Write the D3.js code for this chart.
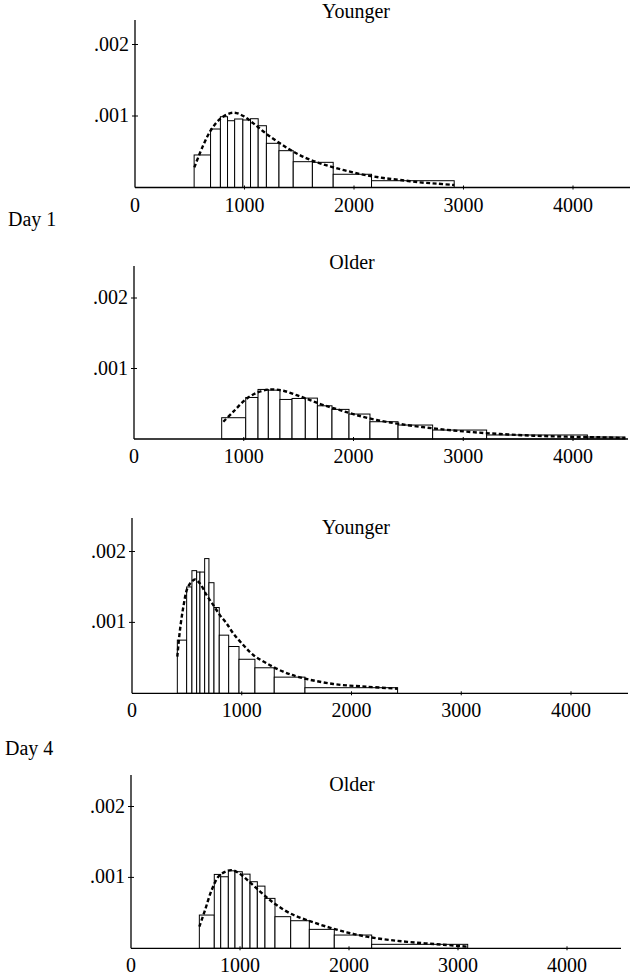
<!DOCTYPE html>
<html lang="en">
<head>
<meta charset="UTF-8">
<title>RT distributions</title>
<style>
  body { margin: 0; background: #fff; }
  svg text { font-family: "Liberation Serif", "Times New Roman", serif; fill: #000; }
</style>
</head>
<body>
<svg id="chart" width="630" height="976"></svg>
<script src="https://cdn.jsdelivr.net/npm/d3@7"></script>
<script>

// ---- data ----
// bin edges are in ms, densities per ms
var xTicks = [0, 1000, 2000, 3000, 4000];
var yTicks = [0.001, 0.002];

// Day 1, younger
var d1YoungEdges = [540, 690, 780, 845, 910, 985, 1055, 1125, 1200, 1315, 1445, 1620, 1810, 2160, 2915];
var d1YoungDens = [0.000455, 0.000818, 0.00099, 0.000934, 0.000958, 0.000944, 0.000962, 0.000864, 0.000618, 0.000515, 0.000361, 0.000352, 0.000185, 0.000095];
var d1YoungCurveX = [542, 624, 700, 792, 898, 989, 1081, 1202, 1324, 1446, 1568, 1690, 1811, 1964, 2116, 2268, 2420, 2603, 2755, 2916];
var d1YoungCurveY = [0.000282, 0.000594, 0.000818, 0.000977, 0.001047, 0.0010, 0.000897, 0.000748, 0.000618, 0.000501, 0.000408, 0.000338, 0.000282, 0.000221, 0.00017, 0.000133, 0.000105, 0.000072, 0.000054, 0.000035];

// Day 1, older
var d1OldEdges = [799, 1018, 1130, 1224, 1330, 1440, 1561, 1671, 1804, 1959, 2150, 2406, 2721, 3213, 4131, 4474];
var d1OldDens = [0.000302, 0.000589, 0.000703, 0.000693, 0.000561, 0.000575, 0.00058, 0.000471, 0.00042, 0.000354, 0.000245, 0.000198, 0.000127, 0.000057, 0.000028];
var d1OldCurveX = [814, 905, 1011, 1118, 1239, 1361, 1482, 1604, 1725, 1877, 2029, 2211, 2424, 2727, 3031, 3335, 3639, 3942, 4246, 4474];
var d1OldCurveY = [0.000245, 0.000387, 0.000552, 0.000655, 0.000703, 0.000684, 0.000622, 0.000552, 0.000481, 0.00041, 0.000339, 0.000269, 0.000212, 0.000151, 0.000104, 0.000071, 0.000047, 0.000033, 0.000024, 0.000014];

// Day 4, younger
var d4YoungEdges = [413, 498, 546, 589, 619, 662, 701, 747, 795, 881, 975, 1120, 1296, 1576, 2420];
var d4YoungDens = [0.00075, 0.0015, 0.00173, 0.00171, 0.00171, 0.0019, 0.00156, 0.00121, 0.00082, 0.00066, 0.00048, 0.00036, 0.000228, 0.000079];
var d4YoungCurveX = [413, 437, 468, 504, 543, 574, 619, 680, 741, 801, 862, 923, 1014, 1105, 1226, 1378, 1530, 1834, 2137, 2420];
var d4YoungCurveY = [0.000516, 0.000892, 0.00122, 0.001479, 0.001573, 0.001606, 0.001549, 0.001385, 0.001244, 0.001103, 0.000986, 0.000845, 0.000681, 0.00054, 0.000423, 0.000305, 0.000225, 0.000131, 0.000093, 0.000065];

// Day 4, older
var d4OldEdges = [627, 764, 823, 893, 954, 1021, 1092, 1159, 1229, 1321, 1465, 1636, 1865, 2208, 3089];
var d4OldDens = [0.000469, 0.001042, 0.001009, 0.001093, 0.00108, 0.001046, 0.000939, 0.000877, 0.000704, 0.000446, 0.000389, 0.000267, 0.000187, 0.000056];
var d4OldCurveX = [627, 679, 740, 801, 862, 924, 985, 1061, 1153, 1245, 1336, 1459, 1612, 1795, 1979, 2162, 2376, 2621, 2865, 3089];
var d4OldCurveY = [0.000305, 0.000539, 0.000821, 0.001009, 0.001079, 0.001103, 0.001065, 0.000971, 0.000845, 0.000718, 0.00061, 0.000493, 0.000399, 0.000305, 0.000225, 0.000164, 0.000117, 0.000079, 0.000051, 0.000023];

// ---- layout of the four panels ----
var panels = [
    {title: "Younger", edges: d1YoungEdges, dens: d1YoungDens, cx: d1YoungCurveX, cy: d1YoungCurveY,
        x0: 135, x4000: 573, xEnd: 630, base: 187.5, y002: 44.5, top: 20, titleX: 356, titleY: 18},
    {title: "Older", edges: d1OldEdges, dens: d1OldDens, cx: d1OldCurveX, cy: d1OldCurveY,
        x0: 134, x4000: 573, xEnd: 628, base: 439, y002: 298, top: 266, titleX: 352, titleY: 269},
    {title: "Younger", edges: d4YoungEdges, dens: d4YoungDens, cx: d4YoungCurveX, cy: d4YoungCurveY,
        x0: 132, x4000: 571, xEnd: 628, base: 693.3, y002: 551.5, top: 518, titleX: 356, titleY: 534},
    {title: "Older", edges: d4OldEdges, dens: d4OldDens, cx: d4OldCurveX, cy: d4OldCurveY,
        x0: 131, x4000: 567, xEnd: 621, base: 948.3, y002: 806.5, top: 775, titleX: 352, titleY: 791}
];

var svg = d3.select("#chart");
var fmtY = function (d) { return d3.format(".3f")(d).replace(/^0/, ""); };

panels.forEach(function (p) {
    var x = d3.scaleLinear().domain([0, 4000]).range([p.x0, p.x4000]);
    var y = d3.scaleLinear().domain([0, 0.002]).range([p.base, p.y002]);
    var g = svg.append("g");

    // bars
    var bins = p.dens.map(function (d, i) { return {x0: p.edges[i], x1: p.edges[i + 1], v: d}; });
    g.selectAll("rect.bar").data(bins).enter().append("rect")
        .attr("class", "bar")
        .attr("x", function (d) { return x(d.x0); })
        .attr("width", function (d) { return x(d.x1) - x(d.x0); })
        .attr("y", function (d) { return y(d.v); })
        .attr("height", function (d) { return y(0) - y(d.v); })
        .attr("fill", "#fff")
        .attr("stroke", "#000")
        .attr("stroke-width", 1);

    // fitted density, dashed
    var pts = p.cx.map(function (v, i) { return [v, p.cy[i]]; });
    g.append("path")
        .datum(pts)
        .attr("fill", "none")
        .attr("stroke", "#000")
        .attr("stroke-width", 2.4)
        .attr("stroke-dasharray", "4,2.5")
        .attr("d", d3.line()
            .x(function (d) { return x(d[0]); })
            .y(function (d) { return y(d[1]); })
            .curve(d3.curveCatmullRom));

    // x axis
    g.append("line")
        .attr("x1", p.x0).attr("x2", p.xEnd)
        .attr("y1", p.base).attr("y2", p.base)
        .attr("stroke", "#000").attr("stroke-width", 1.3);
    g.selectAll("line.xt").data(xTicks.slice(1)).enter().append("line")
        .attr("x1", function (d) { return x(d); }).attr("x2", function (d) { return x(d); })
        .attr("y1", p.base - 2).attr("y2", p.base + 2)
        .attr("stroke", "#000");
    g.selectAll("text.xl").data(xTicks).enter().append("text")
        .attr("x", function (d) { return x(d); })
        .attr("y", p.base + 24)
        .attr("text-anchor", "middle")
        .attr("font-size", 20)
        .text(function (d) { return d; });

    // y axis
    g.append("line")
        .attr("x1", p.x0).attr("x2", p.x0)
        .attr("y1", p.base).attr("y2", p.top)
        .attr("stroke", "#000").attr("stroke-width", 1.3);
    g.selectAll("line.yt").data(yTicks).enter().append("line")
        .attr("x1", p.x0 - 3).attr("x2", p.x0 + 3)
        .attr("y1", function (d) { return y(d); }).attr("y2", function (d) { return y(d); })
        .attr("stroke", "#000");
    g.selectAll("text.yl").data(yTicks).enter().append("text")
        .attr("x", p.x0 - 6)
        .attr("y", function (d) { return y(d) + 6; })
        .attr("text-anchor", "end")
        .attr("font-size", 20)
        .text(fmtY);

    g.append("text")
        .attr("x", p.titleX).attr("y", p.titleY)
        .attr("text-anchor", "middle")
        .attr("font-size", 20)
        .text(p.title);
});

svg.append("text").attr("x", 8).attr("y", 226).attr("font-size", 20).text("Day 1");
svg.append("text").attr("x", 5).attr("y", 755).attr("font-size", 20).text("Day 4");

</script>
</body>
</html>
